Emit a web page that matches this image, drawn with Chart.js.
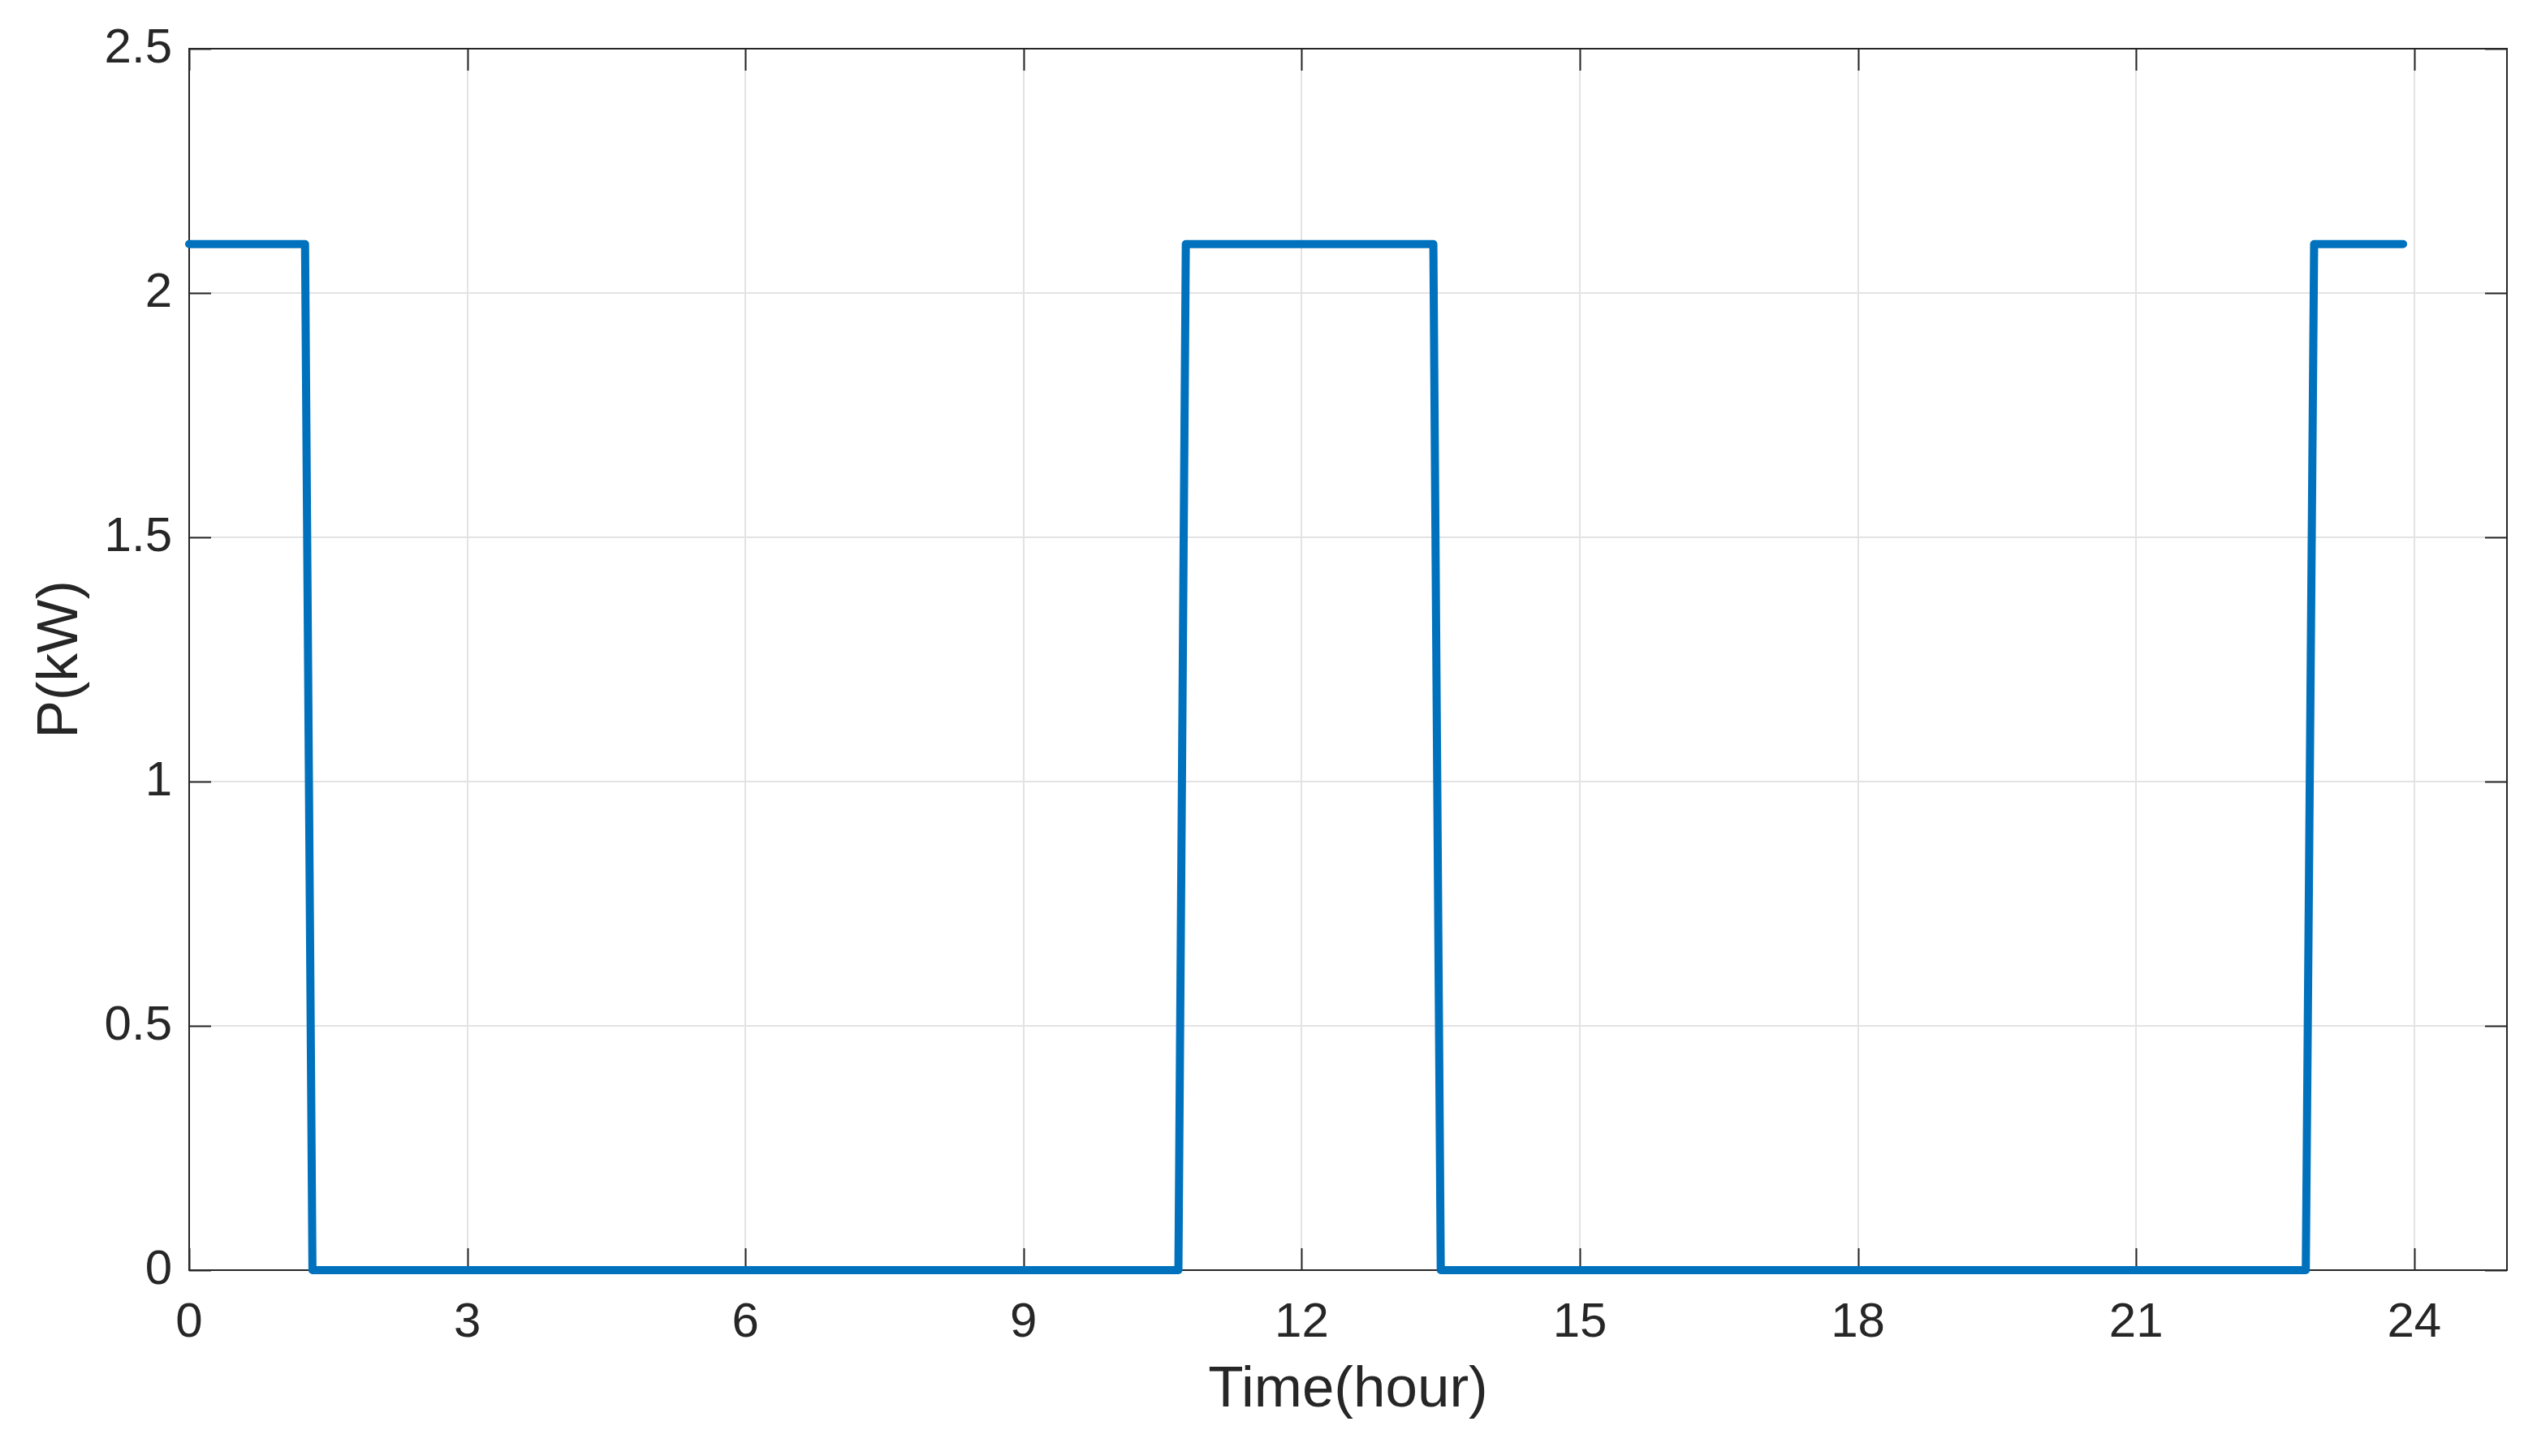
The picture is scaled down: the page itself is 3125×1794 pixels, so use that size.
<!DOCTYPE html>
<html>
<head>
<meta charset="utf-8">
<script src="https://cdn.jsdelivr.net/npm/chart.js@4.4.1/dist/chart.umd.min.js"></script>
<style>
  html, body { margin: 0; padding: 0; background: #ffffff; }
  #wrap { width: 3125px; height: 1794px; }
</style>
</head>
<body>
<div id="wrap"><canvas id="c" width="3125" height="1794"></canvas></div>
<script>
// ---- data ----
const timeHours = [0, 1.25, 1.33, 10.67, 10.75, 13.42, 13.5, 22.83, 22.92, 23.88];
const powerKW   = [2.1, 2.1, 0, 0, 2.1, 2.1, 0, 0, 2.1, 2.1];
const xTicks = [0, 3, 6, 9, 12, 15, 18, 21, 24];
const yTicks = [0, 0.5, 1, 1.5, 2, 2.5];
const xLabel = 'Time(hour)';
const yLabel = 'P(kW)';

const points = timeHours.map((t, i) => ({ x: t, y: powerKW[i] }));
const FONT = "'Liberation Sans', Arial, Helvetica, sans-serif";
const TEXT = '#262626';
const AXIS = '#262626';

const boxPlugin = {
  id: 'matlabBox',
  beforeDatasetsDraw(chart) {
    const { ctx, chartArea: a, scales } = chart;
    const tl = 27;
    ctx.save();
    ctx.strokeStyle = AXIS;
    ctx.lineWidth = 2;
    ctx.beginPath();
    xTicks.forEach(v => {
      const px = Math.round(scales.x.getPixelForValue(v)) + 0.5;
      ctx.moveTo(px, a.bottom); ctx.lineTo(px, a.bottom - tl);
      ctx.moveTo(px, a.top); ctx.lineTo(px, a.top + tl);
    });
    yTicks.forEach(v => {
      const py = Math.round(scales.y.getPixelForValue(v)) + 0.5;
      ctx.moveTo(a.left, py); ctx.lineTo(a.left + tl, py);
      ctx.moveTo(a.right, py); ctx.lineTo(a.right - tl, py);
    });
    ctx.stroke();
    ctx.strokeRect(a.left, a.top, a.right - a.left, a.bottom - a.top);
    ctx.restore();
  }
};

new Chart(document.getElementById('c'), {
  type: 'line',
  data: {
    datasets: [{
      data: points,
      borderColor: '#0072BD',
      borderWidth: 10,
      borderJoinStyle: 'round',
      borderCapStyle: 'round',
      pointRadius: 0,
      tension: 0,
      fill: false,
      clip: false
    }]
  },
  options: {
    responsive: false,
    devicePixelRatio: 1,
    animation: false,
    layout: { padding: { top: 60, right: 37, left: 0, bottom: 0 } },
    plugins: { legend: { display: false }, tooltip: { enabled: false } },
    scales: {
      x: {
        type: 'linear',
        min: 0, max: 25,
        afterFit(s) { s.height = 229; },
        afterBuildTicks(s) { s.ticks = xTicks.map(v => ({ value: v })); },
        grid: { color: '#e3e3e3', lineWidth: 2, drawTicks: false },
        border: { display: false },
        ticks: { color: TEXT, font: { family: FONT, size: 60 }, padding: 29, maxRotation: 0, autoSkip: false },
        title: { display: true, text: xLabel, color: TEXT, font: { family: FONT, size: 71 }, padding: { top: 0, bottom: 38 } }
      },
      y: {
        type: 'linear',
        min: 0, max: 2.5,
        afterFit(s) { s.width = 233; },
        afterBuildTicks(s) { s.ticks = yTicks.map(v => ({ value: v })); },
        grid: { color: '#e3e3e3', lineWidth: 2, drawTicks: false },
        border: { display: false },
        ticks: { color: TEXT, font: { family: FONT, size: 60 }, padding: 21, autoSkip: false,
                 callback: v => String(v) },
        title: { display: true, text: yLabel, color: TEXT, font: { family: FONT, size: 70 }, padding: { top: 34, bottom: 0 } }
      }
    }
  },
  plugins: [boxPlugin]
});
</script>
</body>
</html>
